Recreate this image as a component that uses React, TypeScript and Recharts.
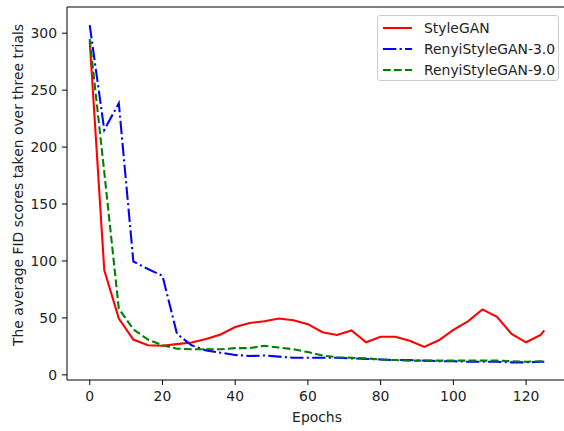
import React from 'react';
import {
  LineChart,
  Line,
  XAxis,
  YAxis,
  Legend,
  Label,
  ReferenceLine } from
'recharts';

const epochs = [0, 4, 8, 12, 16, 20, 24, 28, 32, 36, 40, 44, 48, 52, 56, 60, 64, 68, 72, 76, 80, 84, 88, 92, 96, 100, 104, 108, 112, 116, 120, 124, 125];

const styleGan = [293, 92, 49.5, 31, 26, 25.5, 27, 28.5, 31.5, 35.5, 42, 45.5, 47, 49.5, 48, 44.5, 37.4, 35, 39, 28.6, 33.5, 33.5, 30, 24.5, 30.4, 39.5, 47, 57.5, 51, 36, 28.6, 35, 39];
const renyi3 = [307, 215, 238.5, 99.5, 93, 87, 36, 26, 21.5, 19.5, 17.5, 16.5, 17, 16, 15, 15, 15, 15, 14.5, 14, 13.5, 13, 13, 12.5, 12, 12, 11.5, 11.5, 11.5, 11, 11, 11.5, 11.5];
const renyi9 = [295, 178, 58, 40, 31, 26, 23, 22.5, 22.5, 22.5, 23.5, 23.5, 25.5, 24, 22.5, 20, 17, 15.5, 15, 14.5, 13.5, 13, 12.5, 12.5, 12.5, 12.5, 12.5, 12.5, 12.5, 12, 11.5, 12, 12];

const xTicks = [0, 20, 40, 60, 80, 100, 120];
const yTicks = [0, 50, 100, 150, 200, 250, 300];

const series = [
{ key: 'styleGan', name: 'StyleGAN', color: '#ff0000', dash: undefined },
{ key: 'renyi3', name: 'RenyiStyleGAN-3.0', color: '#0000ff', dash: '13.3 3.3 2.1 3.3' },
{ key: 'renyi9', name: 'RenyiStyleGAN-9.0', color: '#008000', dash: '7.7 3.3' }];


const data = epochs.map((epoch, i) => ({
  epoch,
  styleGan: styleGan[i],
  renyi3: renyi3[i],
  renyi9: renyi9[i]
}));

const FONT = '"DejaVu Sans", sans-serif';
const FS = 13.9;
const tickStyle = { fill: '#222', fontSize: FS, fontFamily: FONT };

function LegendBox() {
  return (
    <div
      style={{
        width: 182,
        height: 66,
        border: '1px solid #cccccc',
        borderRadius: 3,
        background: 'rgba(255,255,255,0.8)',
        fontFamily: FONT,
        fontSize: FS,
        color: '#222',
        boxSizing: 'border-box',
        paddingTop: 1
      }}>
      {series.map((s) =>
      <div key={s.key} style={{ display: 'flex', alignItems: 'center', height: 21.3 }}>
          <svg width={46} height={10} style={{ flex: 'none' }}>
            <line x1={5} x2={34} y1={5} y2={5} stroke={s.color} strokeWidth={2.08} strokeDasharray={s.dash} />
          </svg>
          <span style={{ lineHeight: '16px' }}>{s.name}</span>
        </div>
      )}
    </div>);

}

export default function App() {
  return (
    <div style={{ position: 'absolute', left: 0, top: 0, width: 564, height: 431, overflow: 'hidden', background: '#fff' }}>
      <LineChart
        width={571}
        height={431}
        data={data}
        margin={{ top: 7, right: 4, left: 7, bottom: 6 }}>

        <XAxis
          xAxisId="x"
          dataKey="epoch"
          type="number"
          domain={[-6.25, 131.25]}
          ticks={xTicks}
          allowDataOverflow
          height={45}
          stroke="#000"
          tickSize={5}
          tickMargin={6}
          tick={tickStyle}>
          <Label
            content={({ viewBox }: any) =>
            <text
              x={viewBox.x + viewBox.width / 2}
              y={421.5}
              textAnchor="middle"
              fill="#222"
              fontSize={FS}
              fontFamily={FONT}>
                Epochs
              </text>
            } />
        </XAxis>
        <XAxis
          xAxisId="top"
          orientation="top"
          dataKey="epoch"
          type="number"
          domain={[-6.25, 131.25]}
          height={0}
          tick={false}
          tickLine={false}
          stroke="#000" />
        <YAxis
          yAxisId="y"
          type="number"
          domain={[-4.5, 323]}
          ticks={yTicks}
          allowDataOverflow
          width={60}
          stroke="#000"
          tickSize={5}
          tickMargin={5}
          tick={tickStyle}>
          <Label
            content={() =>
            <text
              x={22.5}
              y={185}
              transform="rotate(-90 22.5 185)"
              textAnchor="middle"
              fill="#222"
              fontSize={FS}
              fontFamily={FONT}>
                The average FID scores taken over three trials
              </text>
            } />
        </YAxis>
        <YAxis
          yAxisId="right"
          orientation="right"
          domain={[-4.5, 323]}
          width={0}
          tick={false}
          tickLine={false}
          stroke="#000" />
        <ReferenceLine xAxisId="x" yAxisId="y" y={323} stroke="#000" strokeWidth={1} ifOverflow="visible" />
        <Legend
          layout="vertical"
          align="center"
          verticalAlign="middle"
          wrapperStyle={{ left: 377, top: 15, width: 'auto', height: 'auto' }}
          content={() => <LegendBox />} />
        {series.map((s) =>
        <Line
          key={s.key}
          xAxisId="x"
          yAxisId="y"
          type="linear"
          dataKey={s.key}
          name={s.name}
          stroke={s.color}
          strokeWidth={2.08}
          strokeDasharray={s.dash}
          dot={false}
          activeDot={false}
          isAnimationActive={false} />
        )}
      </LineChart>
    </div>);

}
